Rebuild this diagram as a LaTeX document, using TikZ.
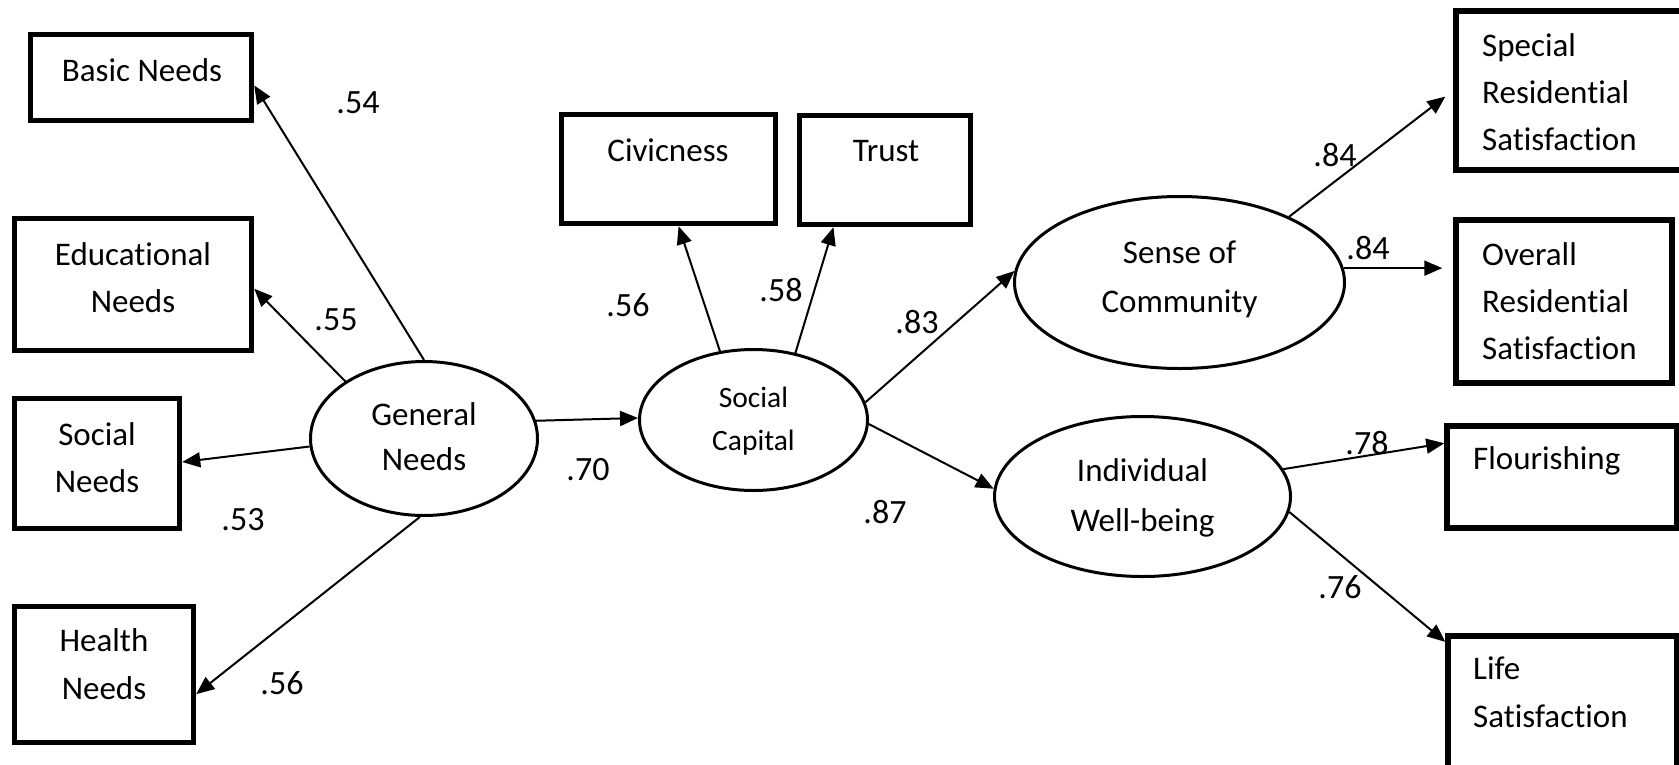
\documentclass[tikz,border=0pt]{standalone}
\usepackage{fontspec}
\setmainfont{Carlito}[Ligatures=NoCommon]
\usetikzlibrary{arrows.meta,shapes.geometric}
\newcommand{\mlc}[1]{\begin{tabular}[t]{@{}c@{}}#1\end{tabular}}
\newcommand{\mll}[1]{\begin{tabular}[t]{@{}l@{}}#1\end{tabular}}
\newcommand{\mlm}[1]{\begin{tabular}{@{}c@{}}#1\end{tabular}}
\begin{document}
\begin{tikzpicture}[x=1pt,y=-1pt,
  box/.style={draw, rectangle, line width=5.5pt, inner sep=0pt},
  lat/.style={draw, ellipse, line width=3pt, inner sep=0pt},
  txt/.style={inner sep=0pt, font=\fontsize{33}{47.5}\selectfont},
  coef/.style={inner sep=0pt, font=\fontsize{34}{40}\selectfont},
  conn/.style={line width=2pt, -{Triangle[length=18pt,width=15pt]}}]
\clip (0,0) rectangle (1679,764);
\fill[white] (0,0) rectangle (1679,764);

% observed variable boxes
\node[box, minimum width=221pt, minimum height=86pt] (basic) at (141,77.5) {};
\node[box, minimum width=237pt, minimum height=132pt] (edu) at (133,284.5) {};
\node[box, minimum width=165pt, minimum height=130pt] (soc) at (97,463.5) {};
\node[box, minimum width=179pt, minimum height=136pt] (health) at (104,674.5) {};
\node[box, minimum width=214pt, minimum height=109pt] (civ) at (668.5,169) {};
\node[box, minimum width=171pt, minimum height=109pt] (trust) at (885,170) {};
\node[box, minimum width=244pt, minimum height=159pt] (special) at (1578,90.5) {};
\node[box, minimum width=216pt, minimum height=163pt] (overall) at (1564,301.5) {};
\node[box, minimum width=230pt, minimum height=102pt] (flour) at (1562,477) {};
\node[box, minimum width=229pt, minimum height=164pt] (life) at (1562.5,718) {};

% box texts
\node[txt, anchor=base] (basic-t) at (142,81) {Basic Needs};
\node[txt, anchor=base] (edu-t) at (133,265) {\mlc{Educational\\Needs}};
\node[txt, anchor=base] (soc-t) at (97,445) {\mlc{Social\\Needs}};
\node[txt, anchor=base] (health-t) at (104,651.5) {\mlc{Health\\Needs}};
\node[txt, anchor=base] (civ-t) at (668,161.5) {Civicness};
\node[txt, anchor=base] (trust-t) at (886,161.5) {Trust};
\node[txt, anchor=base west, font=\fontsize{33}{47}\selectfont] (special-t) at (1482,56) {\mll{Special\\Residential\\Satisfaction}};
\node[txt, anchor=base west, font=\fontsize{33}{47}\selectfont] (overall-t) at (1482,265) {\mll{Overall\\Residential\\Satisfaction}};
\node[txt, anchor=base west] (flour-t) at (1473,469) {Flourishing};
\node[txt, anchor=base west, font=\fontsize{33}{48.5}\selectfont] (life-t) at (1473,679) {\mll{Life\\Satisfaction}};

% latent variables
\node[lat, minimum width=227pt, minimum height=154pt, font=\fontsize{33}{45}\selectfont] (gn) at (424,438.5) {\mlm{General\\Needs}};
\node[lat, minimum width=228pt, minimum height=141pt, font=\fontsize{29.5}{43}\selectfont] (sc) at (753.5,420) {\mlm{Social\\Capital}};
\node[lat, minimum width=330pt, minimum height=172pt, font=\fontsize{33}{49}\selectfont] (sense) at (1179.5,282.5) {\raisebox{4pt}[\height][\depth]{\mlm{Sense of\\Community}}};
\node[lat, minimum width=296pt, minimum height=160pt, font=\fontsize{33}{50}\selectfont] (iwb) at (1142.5,496.5) {\mlm{Individual\\Well-being}};

% paths
\draw[conn] (gn.90.7) -- (basic.-4.4);
\draw[conn] (gn.144.5) -- (edu.-2.66);
\draw[conn] (gn.184.2) -- (soc.1.74);
\draw[conn] (gn.267.9) -- (health.-12.3);
\draw[conn] (gn.9.2) -- (sc.179.5);
\draw[conn] (sc.116.2) -- (civ.-80.1);
\draw[conn] (sc.58) -- (trust.228);
\draw[conn] (sc.9.1) -- (sense.176.7);
\draw[conn] (sc.-2) -- (iwb.177.5);
\draw[conn, shorten >=10pt] (sense.31) -- (special.west);
\draw[conn, shorten >=11pt] (sense.5) -- (sense.5 -| overall.west);
\draw[conn] (iwb.11.5) -- (flour.164.9);
\draw[conn] (iwb.-6) -- (life.147.5);

% coefficients
\node[coef] (c54) at (358,103) {.54};
\node[coef] (c55) at (336,320) {.55};
\node[coef] (c53) at (243,520) {.53};
\node[coef] (c56a) at (282,683) {.56};
\node[coef] (c70) at (588,470) {.70};
\node[coef] (c56b) at (628,305) {.56};
\node[coef] (c58) at (781,290) {.58};
\node[coef] (c83) at (917,322) {.83};
\node[coef] (c87) at (885,512) {.87};
\node[coef] (c84a) at (1335,155) {.84};
\node[coef] (c84b) at (1368,248) {.84};
\node[coef] (c78) at (1367,443) {.78};
\node[coef] (c76) at (1340,587) {.76};
\end{tikzpicture}
\end{document}
